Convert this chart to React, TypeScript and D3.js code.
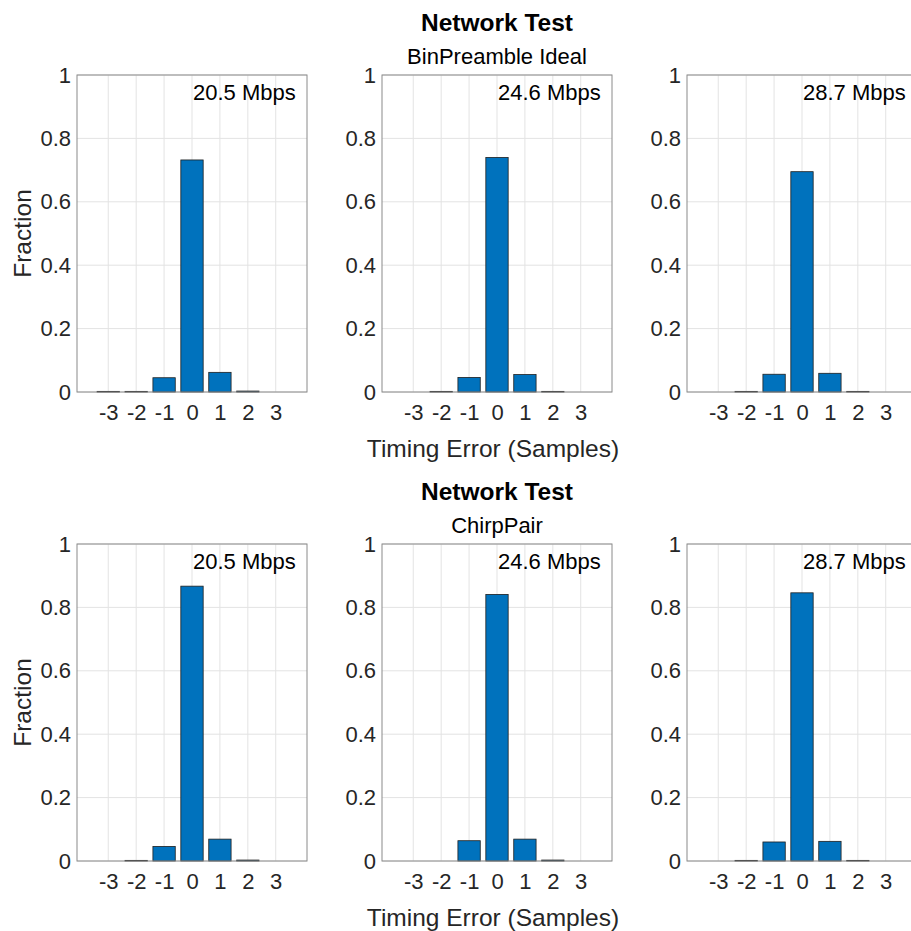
import React, {Component} from 'react';
import * as d3 from 'd3';

// timing error bins (samples) and the y ticks
const timingErrors = [-3, -2, -1, 0, 1, 2, 3];
const fractionTicks = [0, 0.2, 0.4, 0.6, 0.8, 1];
const rateLabels = ['20.5 Mbps', '24.6 Mbps', '28.7 Mbps'];

// top row: BinPreamble Ideal
const binPreamble205 = [0.002, 0.002, 0.045, 0.732, 0.062, 0.003, 0];
const binPreamble246 = [0, 0.002, 0.046, 0.740, 0.055, 0.002, 0];
const binPreamble287 = [0, 0.002, 0.056, 0.695, 0.059, 0.002, 0];

// bottom row: ChirpPair
const chirpPair205 = [0, 0.002, 0.046, 0.867, 0.069, 0.003, 0];
const chirpPair246 = [0, 0, 0.064, 0.841, 0.069, 0.003, 0];
const chirpPair287 = [0, 0.002, 0.060, 0.846, 0.062, 0.002, 0];

const rows = [
    {title: 'Network Test', subtitle: 'BinPreamble Ideal', series: [binPreamble205, binPreamble246, binPreamble287]},
    {title: 'Network Test', subtitle: 'ChirpPair', series: [chirpPair205, chirpPair246, chirpPair287]}
];

const FONT = '"Liberation Sans", Arial, Helvetica, sans-serif';
const TEXT = '#262626';

class App extends Component {
    svgRef = React.createRef<SVGSVGElement>();

    componentDidMount() {
        this.draw();
    }

    componentDidUpdate() {
        this.draw();
    }

    draw() {
        var svg = d3.select(this.svgRef.current);
        svg.selectAll('*').remove();

        var colLeft = [77, 382, 687];
        var rowTop = [75, 544];
        var w = 230;
        var h = 317;

        rows.forEach((row, r) => {
            var top = rowTop[r];

            // title + subtitle over the middle panel
            var midX = colLeft[1] + w / 2;
            svg.append('text')
                .attr('x', midX).attr('y', top - 44)
                .attr('text-anchor', 'middle')
                .style('font-family', FONT).style('font-size', '24.5px').style('font-weight', 'bold')
                .style('fill', '#000')
                .text(row.title);
            svg.append('text')
                .attr('x', midX).attr('y', top - 11)
                .attr('text-anchor', 'middle')
                .style('font-family', FONT).style('font-size', '22px')
                .style('fill', '#000')
                .text(row.subtitle);

            row.series.forEach((values, c) => {
                var g = svg.append('g')
                    .attr('transform', `translate(${colLeft[c]},${top})`);

                var xScale = d3.scaleLinear().domain([-4.12, 4.12]).range([0, w]);
                var yScale = d3.scaleLinear().domain([0, 1]).range([h, 0]);

                // grid
                g.selectAll('.xgrid').data(timingErrors).join('line')
                    .attr('class', 'xgrid')
                    .attr('x1', d => xScale(d)).attr('x2', d => xScale(d))
                    .attr('y1', 0).attr('y2', h)
                    .style('stroke', '#e3e3e3').style('stroke-width', 1);
                g.selectAll('.ygrid').data(fractionTicks).join('line')
                    .attr('class', 'ygrid')
                    .attr('x1', 0).attr('x2', w)
                    .attr('y1', d => yScale(d)).attr('y2', d => yScale(d))
                    .style('stroke', '#e3e3e3').style('stroke-width', 1);

                // bars
                var bw = xScale(0.8) - xScale(0);
                g.selectAll('.bar').data(values).join('rect')
                    .attr('class', 'bar')
                    .attr('x', (d, i) => xScale(timingErrors[i]) - bw / 2)
                    .attr('width', bw)
                    .attr('y', d => yScale(d))
                    .attr('height', d => h - yScale(d))
                    .style('fill', '#0072BD')
                    .style('stroke', '#1f1f1f')
                    .style('stroke-width', 0.8);

                // box
                g.append('rect')
                    .attr('x', 0).attr('y', 0).attr('width', w).attr('height', h)
                    .style('fill', 'none').style('stroke', '#8a8a8a').style('stroke-width', 1);

                // axes
                var yAxis = g.append('g')
                    .call(d3.axisLeft(yScale).tickValues(fractionTicks)
                        .tickFormat(d => String(d)).tickSize(0).tickPadding(6));
                var xAxis = g.append('g')
                    .attr('transform', `translate(0,${h})`)
                    .call(d3.axisBottom(xScale).tickValues(timingErrors)
                        .tickFormat(d => String(d)).tickSize(0).tickPadding(12));
                [yAxis, xAxis].forEach(a => {
                    a.select('.domain').remove();
                    a.attr('font-family', FONT).attr('font-size', 22);
                    a.selectAll('text').style('fill', TEXT);
                });

                // rate annotation
                g.append('text')
                    .attr('x', xScale(0) + 1).attr('y', 25)
                    .style('font-family', FONT).style('font-size', '22px')
                    .style('fill', '#000')
                    .text(rateLabels[c]);

                if (c === 0) {
                    g.append('text')
                        .attr('transform', `translate(-46,${h / 2}) rotate(-90)`)
                        .attr('text-anchor', 'middle')
                        .style('font-family', FONT).style('font-size', '24.5px')
                        .style('fill', TEXT)
                        .text('Fraction');
                }
                if (c === 1) {
                    g.append('text')
                        .attr('x', w / 2 - 4).attr('y', h + 65)
                        .attr('text-anchor', 'middle')
                        .style('font-family', FONT).style('font-size', '24.5px')
                        .style('fill', TEXT)
                        .text('Timing Error (Samples)');
                }
            });
        });
    }

    render() {
        return <svg ref={this.svgRef} width={911} height={931}
            style={{position: 'absolute', left: 0, top: 0, background: '#fff'}} />;
    }
}

export default App;
